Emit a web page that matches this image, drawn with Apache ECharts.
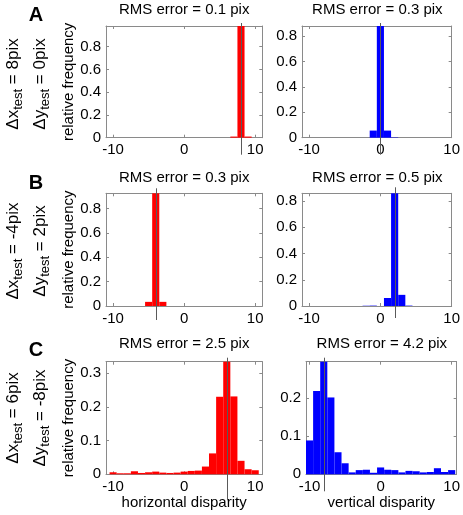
<!DOCTYPE html>
<html><head><meta charset="utf-8">
<script src="https://cdn.jsdelivr.net/npm/echarts@6/dist/echarts.min.js"></script>
<style>html,body{margin:0;padding:0;background:#fff}#c{width:463px;height:515px}</style>
</head><body><div id="c"></div>
<script>
// ---------- data ----------
const binCenters = [-10,-9,-8,-7,-6,-5,-4,-3,-2,-1,0,1,2,3,4,5,6,7,8,9,10];
const freqA_horizontal = [0,0,0,0,0,0,0,0,0,0,0,0,0,0,0,0,0,0.01,0.982,0.01,0];
const freqA_vertical   = [0,0,0,0,0,0,0,0,0,0.056,0.879,0.056,0.003,0,0,0,0,0,0,0,0];
const freqB_horizontal = [0,0,0,0,0,0.034,0.925,0.034,0,0,0,0,0,0,0,0,0,0,0,0,0];
const freqB_vertical   = [0,0,0,0,0,0,0,0,0.002,0.003,0,0.061,0.859,0.085,0.003,0,0,0,0,0,0];
const freqC_horizontal = [0.006,0.003,0.003,0.009,0.004,0.006,0.008,0.005,0.004,0.005,0.008,0.01,0.011,0.023,0.062,0.23,0.334,0.231,0.04,0.015,0.012];
const freqC_vertical   = [0.089,0.219,0.296,0.202,0.058,0.029,0.005,0.011,0.012,0.004,0.018,0.012,0.011,0.005,0.009,0.008,0.005,0.006,0.016,0.006,0.011];
const trueShiftX = [8, -4, 6];
const trueShiftY = [0, 2, -8];
const rmsErrorX = ['0.1', '0.3', '2.5'];
const rmsErrorY = ['0.3', '0.5', '4.2'];
const rowLetters = ['A', 'B', 'C'];
const xTickValues = [-10, 0, 10];
const yTicksAB = [0, 0.2, 0.4, 0.6, 0.8];
const yTicksCLeft = [0, 0.1, 0.2, 0.3];
const yTicksCRight = [0, 0.1, 0.2];
const xAxisTitles = ['horizontal disparity', 'vertical disparity'];
const yAxisTitle = 'relative frequency';

// ---------- layout / style ----------
const FONT = '"Liberation Sans", Arial, Helvetica, sans-serif';
const RED = '#ff0000', BLUE = '#0000ff', AXIS = '#8a8a8a', TRUE_LINE = '#5a5a5a';
const panels = [
  {data: freqA_horizontal, color: RED,  truth: trueShiftX[0], rms: rmsErrorX[0], xRange: [-11, 11],    yTicks: yTicksAB,     box: [106, 26, 156.3, 111.7],  ext: [3, 17], yName: true},
  {data: freqA_vertical,   color: BLUE, truth: trueShiftY[0], rms: rmsErrorY[0], xRange: [-11, 10],    yTicks: yTicksAB,     box: [302, 26, 150.7, 111.7],  ext: [3, 17]},
  {data: freqB_horizontal, color: RED,  truth: trueShiftX[1], rms: rmsErrorX[1], xRange: [-11, 11],    yTicks: yTicksAB,     box: [106, 193.3, 156.3, 112.7], ext: [5, 14], yName: true},
  {data: freqB_vertical,   color: BLUE, truth: trueShiftY[1], rms: rmsErrorY[1], xRange: [-11, 10],    yTicks: yTicksAB,     box: [302, 193.3, 150.7, 112.7], ext: [6, 12]},
  {data: freqC_horizontal, color: RED,  truth: trueShiftX[2], rms: rmsErrorX[2], xRange: [-11, 11],    yTicks: yTicksCLeft,  box: [106, 361.7, 156.3, 112.6], ext: [4, 26], yName: true, xName: xAxisTitles[0]},
  {data: freqC_vertical,   color: BLUE, truth: trueShiftY[2], rms: rmsErrorY[2], xRange: [-10.5, 10.7], yTicks: yTicksCRight, box: [306, 361.7, 151.7, 112.6], ext: [4, 17], xName: xAxisTitles[1]}
];
const titleTops = [2.5, 170.5, 336.5];
const letterPos = [[36, 15], [36, 183], [36, 350]];
const deltaCenterY = [84, 251, 418];
const deltaLineX = [13, 40.5];
const MAIN_SIZE = 17, SUB_SIZE = 13, SUB_DROP = 5;

const grid = [], xAxis = [], yAxis = [], series = [], title = [], graphic = [];
const fmt = v => String(+(+v).toFixed(2));

panels.forEach((p, i) => {
  const [l, t, w, h] = p.box;
  const yMax = Math.max(...p.data);
  grid.push({left: l, top: t, width: w, height: h, containLabel: false});
  const baseX = {
    gridIndex: i, type: 'value', min: p.xRange[0], max: p.xRange[1],
    splitLine: {show: false},
    axisLine: {show: true, onZero: false, lineStyle: {color: AXIS, width: 1}},
    axisTick: {show: true, inside: true, length: 3, customValues: xTickValues, lineStyle: {color: AXIS}}
  };
  xAxis.push(Object.assign({}, baseX, {
    position: 'bottom',
    axisLabel: {customValues: xTickValues, color: '#000', fontSize: 15, fontFamily: FONT, margin: 5},
    name: p.xName || '', nameLocation: 'middle', nameGap: 21,
    nameTextStyle: {color: '#000', fontSize: 15, fontFamily: FONT}
  }));
  xAxis.push(Object.assign({}, baseX, {position: 'top', axisLabel: {show: false}}));
  const baseY = {
    gridIndex: i, type: 'value', min: 0, max: yMax,
    splitLine: {show: false},
    axisLine: {show: true, onZero: false, lineStyle: {color: AXIS, width: 1}},
    axisTick: {show: true, inside: true, length: 3, customValues: p.yTicks, lineStyle: {color: AXIS}}
  };
  yAxis.push(Object.assign({}, baseY, {
    position: 'left',
    axisLabel: {customValues: p.yTicks, formatter: fmt, color: '#000', fontSize: 15, fontFamily: FONT, margin: 5},
    name: p.yName ? yAxisTitle : '', nameLocation: 'middle', nameGap: 29, nameRotate: 90,
    nameTextStyle: {color: '#000', fontSize: 15, fontFamily: FONT}
  }));
  yAxis.push(Object.assign({}, baseY, {position: 'right', axisLabel: {show: false}}));

  series.push({
    type: 'custom', coordinateSystem: 'cartesian2d', xAxisIndex: 2 * i, yAxisIndex: 2 * i,
    clip: false, z: 2,
    data: binCenters.map((b, k) => [b, p.data[k]]),
    renderItem: (params, api) => {
      const x = api.value(0), v = api.value(1);
      if (!v) return null;
      const a = api.coord([x - 0.5, v]);
      const b = api.coord([x + 0.5, 0]);
      return {type: 'rect', shape: {x: a[0], y: a[1], width: b[0] - a[0], height: b[1] - a[1]},
              style: {fill: p.color, stroke: null}};
    }
  });
  series.push({
    type: 'custom', coordinateSystem: 'cartesian2d', xAxisIndex: 2 * i, yAxisIndex: 2 * i,
    clip: false, z: 3,
    data: [[p.truth, yMax]],
    renderItem: (params, api) => {
      const top = api.coord([api.value(0), api.value(1)]);
      const bot = api.coord([api.value(0), 0]);
      const x = Math.round(top[0]) + 0.5;
      return {type: 'line', shape: {x1: x, y1: top[1] - p.ext[0], x2: x, y2: bot[1] + p.ext[1]},
              style: {stroke: TRUE_LINE, lineWidth: 1}};
    }
  });
  title.push({
    text: 'RMS error = ' + p.rms + ' pix', left: l + w / 2, top: titleTops[Math.floor(i / 2)],
    textAlign: 'center', padding: 0,
    textStyle: {fontSize: 15, fontWeight: 'normal', color: '#000', fontFamily: FONT}
  });
});

// text measurement for the rotated Δ labels with subscripts
const mctx = document.createElement('canvas').getContext('2d');
const textW = (s, size) => { mctx.font = size + 'px ' + FONT; return mctx.measureText(s).width; };

rowLetters.forEach((L, r) => {
  graphic.push({type: 'text', x: letterPos[r][0], y: letterPos[r][1],
    style: {text: L, font: 'bold 20px ' + FONT, fill: '#000', align: 'center', verticalAlign: 'middle'}});
  const lines = [
    [['Δx', MAIN_SIZE, 0], ['test', SUB_SIZE, SUB_DROP], [' = ' + trueShiftX[r] + 'pix', MAIN_SIZE, 0]],
    [['Δy', MAIN_SIZE, 0], ['test', SUB_SIZE, SUB_DROP], [' = ' + trueShiftY[r] + 'pix', MAIN_SIZE, 0]]
  ];
  lines.forEach((parts, j) => {
    const W = parts.reduce((s, q) => s + textW(q[0], q[1]), 0);
    let along = 0;
    parts.forEach(q => {
      graphic.push({type: 'text', x: deltaLineX[j] + q[2], y: deltaCenterY[r] + W / 2 - along,
        rotation: Math.PI / 2,
        style: {text: q[0], font: q[1] + 'px ' + FONT, fill: '#000', align: 'left', verticalAlign: 'middle'}});
      along += textW(q[0], q[1]);
    });
  });
});

const chart = echarts.init(document.getElementById('c'), null, {renderer: 'canvas'});
chart.setOption({animation: false, backgroundColor: '#fff', title, grid, xAxis, yAxis, series, graphic});
</script></body></html>
